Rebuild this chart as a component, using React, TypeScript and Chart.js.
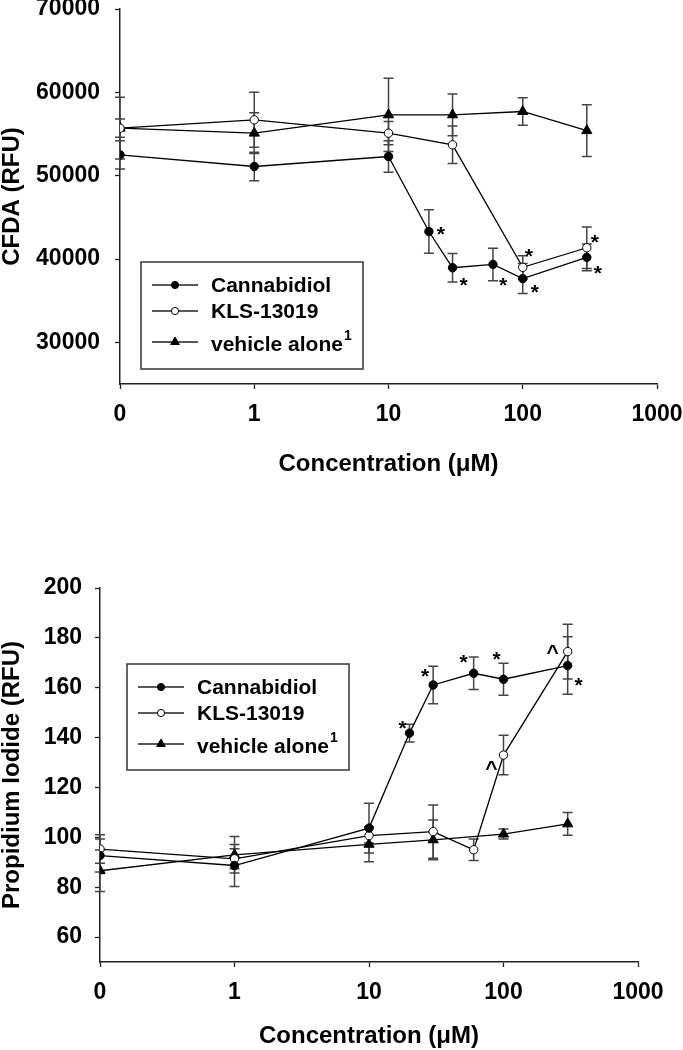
import React, { useEffect, useRef } from "react";
import { Chart, registerables } from "chart.js";

Chart.register(...registerables);

const FONT = '"Liberation Sans", Arial, Helvetica, sans-serif';

// ---------- shared axis ----------
const xTickValues = [0, 1, 10, 100, 1000];
const xTickLabels = ["0", "1", "10", "100", "1000"];
const seriesNames = ["Cannabidiol", "KLS-13019", "vehicle alone"];
const seriesSuperscripts = ["", "", "1"];

// ---------- panel A: CFDA ----------
const cfdaCannabidiolConc = [0, 1, 10, 20, 30, 60, 100, 300];
const cfdaCannabidiol = [52500, 51100, 52300, 43300, 38950, 39350, 37650, 40200];
const cfdaCannabidiolErr = [1700, 1700, 1900, 2600, 1700, 1950, 1800, 1600];
const cfdaKlsConc = [0, 1, 10, 30, 100, 300];
const cfdaKls = [55700, 56700, 55100, 53700, 39000, 41350];
const cfdaKlsErr = [1100, 3300, 1400, 2250, 1400, 2500];
const cfdaVehicleConc = [0, 1, 10, 30, 100, 300];
const cfdaVehicle = [55700, 55100, 57300, 57300, 57700, 55400];
const cfdaVehicleErr = [3700, 2450, 4400, 2500, 1650, 3100];
const cfdaYTicks = [30000, 40000, 50000, 60000, 70000];
const cfdaMarks = [
  { series: 0, index: 3, text: "*", dx: 12, dy: -3 },
  { series: 0, index: 4, text: "*", dx: 11, dy: 12 },
  { series: 0, index: 5, text: "*", dx: 10, dy: 15 },
  { series: 1, index: 4, text: "*", dx: 6, dy: -17 },
  { series: 0, index: 6, text: "*", dx: 12, dy: 8 },
  { series: 1, index: 5, text: "*", dx: 8, dy: -11 },
  { series: 0, index: 7, text: "*", dx: 11, dy: 10 },
];

// ---------- panel B: Propidium iodide ----------
const piCannabidiolConc = [0, 1, 10, 20, 30, 60, 100, 300];
const piCannabidiol = [92.7, 88.7, 103.7, 141.8, 161.1, 165.8, 163.4, 168.9];
const piCannabidiolErr = [6.6, 8.4, 10, 3.6, 7.5, 6.5, 6.4, 11.5];
const piKlsConc = [0, 1, 10, 30, 60, 100, 300];
const piKls = [95.3, 91.4, 100.7, 102.3, 95.0, 133.0, 174.5];
const piKlsErr = [5.7, 4, 3, 10.7, 4.3, 7.9, 11];
const piVehicleConc = [0, 1, 10, 30, 100, 300];
const piVehicle = [86.6, 93, 97.2, 99, 101.3, 105.4];
const piVehicleErr = [8.3, 7.3, 7, 8, 2, 4.6];
const piYTicks = [60, 80, 100, 120, 140, 160, 180, 200];
const piMarks = [
  { series: 0, index: 3, text: "*", dx: -7, dy: -11 },
  { series: 0, index: 4, text: "*", dx: -8, dy: -15 },
  { series: 0, index: 5, text: "*", dx: -10, dy: -17 },
  { series: 0, index: 6, text: "*", dx: -7, dy: -26 },
  { series: 1, index: 6, text: "^", dx: -15, dy: -4 },
  { series: 0, index: 7, text: "*", dx: 11, dy: 14 },
  { series: 1, index: 5, text: "^", dx: -12, dy: 9 },
];

// broken-log concentration axis: 0 sits one decade left of 1
const axisPos = (c: number) => (c === 0 ? 0 : 1 + Math.log10(c));

const seriesStyles = [
  { pointStyle: "circle", radius: 4.2, bg: "#000", legendRadius: 3.6 },
  { pointStyle: "circle", radius: 4.2, bg: "#fff", legendRadius: 3.6 },
  { pointStyle: "triangle", radius: 5.9, bg: "#000", legendRadius: 5 },
];

function drawMarker(ctx: CanvasRenderingContext2D, style: string, x: number, y: number, r: number, bg: string) {
  ctx.beginPath();
  if (style === "triangle") {
    const s = Math.sin((2 * Math.PI) / 3);
    ctx.moveTo(x, y - r);
    ctx.lineTo(x + s * r, y + r / 2);
    ctx.lineTo(x - s * r, y + r / 2);
    ctx.closePath();
  } else {
    ctx.arc(x, y, r, 0, Math.PI * 2);
  }
  ctx.fillStyle = bg;
  ctx.fill();
  ctx.lineWidth = 1;
  ctx.strokeStyle = "#000";
  ctx.stroke();
}

const errorBarPlugin = {
  id: "errorBars",
  beforeDatasetsDraw(chart: any) {
    const ctx = chart.ctx;
    const ys = chart.scales.y;
    chart.data.datasets.forEach((ds: any, i: number) => {
      const meta = chart.getDatasetMeta(i);
      meta.data.forEach((pt: any, j: number) => {
        const v = ds.data[j].y;
        const e = ds.errors[j];
        const top = ys.getPixelForValue(v + e);
        const bot = ys.getPixelForValue(v - e);
        ctx.save();
        ctx.strokeStyle = "#444";
        ctx.lineWidth = 1.5;
        ctx.beginPath();
        ctx.moveTo(pt.x, top);
        ctx.lineTo(pt.x, bot);
        ctx.moveTo(pt.x - 5, top);
        ctx.lineTo(pt.x + 5, top);
        ctx.moveTo(pt.x - 5, bot);
        ctx.lineTo(pt.x + 5, bot);
        ctx.stroke();
        ctx.restore();
      });
    });
  },
};

const marksPlugin = {
  id: "marks",
  afterDatasetsDraw(chart: any, _args: any, opts: any) {
    const ctx = chart.ctx;
    const size = 21;
    ctx.save();
    ctx.fillStyle = "#000";
    ctx.font = `bold ${size}px ${FONT}`;
    ctx.textAlign = "center";
    ctx.textBaseline = "alphabetic";
    (opts.items || []).forEach((m: any) => {
      const pt = chart.getDatasetMeta(m.series).data[m.index];
      const k = m.text === "^" ? 0.52 : 0.6;
      ctx.fillText(m.text, pt.x + m.dx, pt.y + m.dy + k * size);
    });
    ctx.restore();
  },
};

const boxLegendPlugin = {
  id: "boxLegend",
  afterDraw(chart: any, _args: any, opts: any) {
    const ctx = chart.ctx;
    const { x, y, w, h } = opts;
    const rows = [23, 49, 80];
    ctx.save();
    ctx.fillStyle = "#fff";
    ctx.fillRect(x, y, w, h);
    ctx.strokeStyle = "#333";
    ctx.lineWidth = 1.5;
    ctx.strokeRect(x, y, w, h);
    chart.data.datasets.forEach((ds: any, i: number) => {
      const ry = y + rows[i];
      const st = seriesStyles[i];
      ctx.strokeStyle = "#222";
      ctx.lineWidth = 1.3;
      ctx.beginPath();
      ctx.moveTo(x + 11, ry);
      ctx.lineTo(x + 57, ry);
      ctx.stroke();
      drawMarker(ctx, st.pointStyle, x + 34, ry, st.legendRadius, st.bg);
      ctx.fillStyle = "#000";
      ctx.font = `bold 21px ${FONT}`;
      ctx.textAlign = "left";
      ctx.textBaseline = "middle";
      const ty = ry + (seriesSuperscripts[i] ? 3 : 1);
      ctx.fillText(ds.label, x + 70, ty);
      if (seriesSuperscripts[i]) {
        const tw = ctx.measureText(ds.label).width;
        ctx.font = `bold 14px ${FONT}`;
        ctx.fillText(seriesSuperscripts[i], x + 71 + tw, ty - 9);
      }
    });
    ctx.restore();
  },
};

type PanelCfg = {
  conc: number[][];
  values: number[][];
  errors: number[][];
  yMin: number;
  yMax: number;
  yTicks: number[];
  yTitle: string;
  marks: any[];
  padTop: number;
  padRight: number;
  yAxisWidth: number;
  xAxisHeight: number;
  xTitlePadBottom: number;
  yTickPadding: number;
  legend: { x: number; y: number; w: number; h: number };
};

function Panel({ cfg }: { cfg: PanelCfg }) {
  const ref = useRef<HTMLCanvasElement>(null);
  useEffect(() => {
    const tickFont = { family: FONT, size: 23, weight: "bold" as const };
    const titleFont = { family: FONT, size: 24, weight: "bold" as const, lineHeight: 1 };
    const datasets = cfg.values.map((vals, i) => ({
      label: seriesNames[i],
      data: vals.map((v, j) => ({ x: axisPos(cfg.conc[i][j]), y: v })),
      errors: cfg.errors[i],
      showLine: true,
      borderColor: "#000",
      borderWidth: 1.3,
      pointStyle: seriesStyles[i].pointStyle,
      pointRadius: seriesStyles[i].radius,
      pointBackgroundColor: seriesStyles[i].bg,
      pointBorderColor: "#000",
      pointBorderWidth: 1,
    }));
    const stripPad = (s: any) => {
      s.paddingLeft = 0;
      s.paddingRight = 0;
      s.paddingTop = 0;
      s.paddingBottom = 0;
    };
    const chart = new Chart(ref.current as HTMLCanvasElement, {
      type: "scatter",
      data: { datasets } as any,
      options: {
        responsive: false,
        animation: false,
        devicePixelRatio: 1,
        layout: { padding: { left: 0, top: cfg.padTop, right: cfg.padRight, bottom: 0 } },
        plugins: {
          legend: { display: false },
          tooltip: { enabled: false },
          marks: { items: cfg.marks },
          boxLegend: cfg.legend,
        } as any,
        scales: {
          x: {
            type: "linear",
            min: 0,
            max: 4,
            afterBuildTicks: (s: any) => {
              s.ticks = xTickValues.map((v) => ({ value: axisPos(v) }));
            },
            afterFit: (s: any) => {
              s.height = cfg.xAxisHeight;
              stripPad(s);
            },
            ticks: {
              autoSkip: false,
              maxRotation: 0,
              padding: 12,
              color: "#000",
              font: tickFont,
              callback: (_v: any, i: number) => xTickLabels[i],
            },
            grid: {
              display: true,
              drawOnChartArea: false,
              drawTicks: true,
              tickLength: 5,
              tickColor: "#222",
              tickWidth: 1.3,
            },
            border: { display: true, color: "#222", width: 1.5 },
            title: {
              display: true,
              text: "Concentration (μM)",
              color: "#000",
              font: titleFont,
              padding: { top: 0, bottom: cfg.xTitlePadBottom },
            },
          },
          y: {
            type: "linear",
            min: cfg.yMin,
            max: cfg.yMax,
            afterBuildTicks: (s: any) => {
              s.ticks = cfg.yTicks.map((v) => ({ value: v }));
            },
            afterFit: (s: any) => {
              s.width = cfg.yAxisWidth;
              stripPad(s);
            },
            ticks: {
              padding: cfg.yTickPadding,
              color: "#000",
              font: tickFont,
              callback: (v: any) => String(v),
            },
            grid: {
              display: true,
              drawOnChartArea: false,
              drawTicks: true,
              tickLength: 5,
              tickColor: "#222",
              tickWidth: 1.3,
            },
            border: { display: true, color: "#222", width: 1.5 },
            title: {
              display: true,
              text: cfg.yTitle,
              color: "#000",
              font: titleFont,
              padding: { top: 0, bottom: 0 },
            },
          },
        },
      },
      plugins: [errorBarPlugin, marksPlugin, boxLegendPlugin],
    } as any);
    return () => chart.destroy();
  }, [cfg]);
  return <canvas ref={ref} width={683} height={525} style={{ display: "block", width: 683, height: 525 }} />;
}

const cfdaCfg: PanelCfg = {
  conc: [cfdaCannabidiolConc, cfdaKlsConc, cfdaVehicleConc],
  values: [cfdaCannabidiol, cfdaKls, cfdaVehicle],
  errors: [cfdaCannabidiolErr, cfdaKlsErr, cfdaVehicleErr],
  yMin: 25000,
  yMax: 70000,
  yTicks: cfdaYTicks,
  yTitle: "CFDA (RFU)",
  marks: cfdaMarks,
  padTop: 9,
  padRight: 26,
  yAxisWidth: 120,
  xAxisHeight: 141,
  xTitlePadBottom: 49,
  yTickPadding: 15,
  legend: { x: 141, y: 262, w: 222, h: 107 },
};

const piCfg: PanelCfg = {
  conc: [piCannabidiolConc, piKlsConc, piVehicleConc],
  values: [piCannabidiol, piKls, piVehicle],
  errors: [piCannabidiolErr, piKlsErr, piVehicleErr],
  yMin: 50,
  yMax: 200,
  yTicks: piYTicks,
  yTitle: "Propidium Iodide (RFU)",
  marks: piMarks,
  padTop: 63,
  padRight: 45,
  yAxisWidth: 100,
  xAxisHeight: 88,
  xTitlePadBottom: 2,
  yTickPadding: 13,
  legend: { x: 127, y: 139, w: 222, h: 106 },
};

export default function App() {
  return (
    <div style={{ position: "absolute", left: 0, top: 0, width: 683, height: 1050, background: "#fff" }}>
      <Panel cfg={cfdaCfg} />
      <Panel cfg={piCfg} />
    </div>
  );
}
